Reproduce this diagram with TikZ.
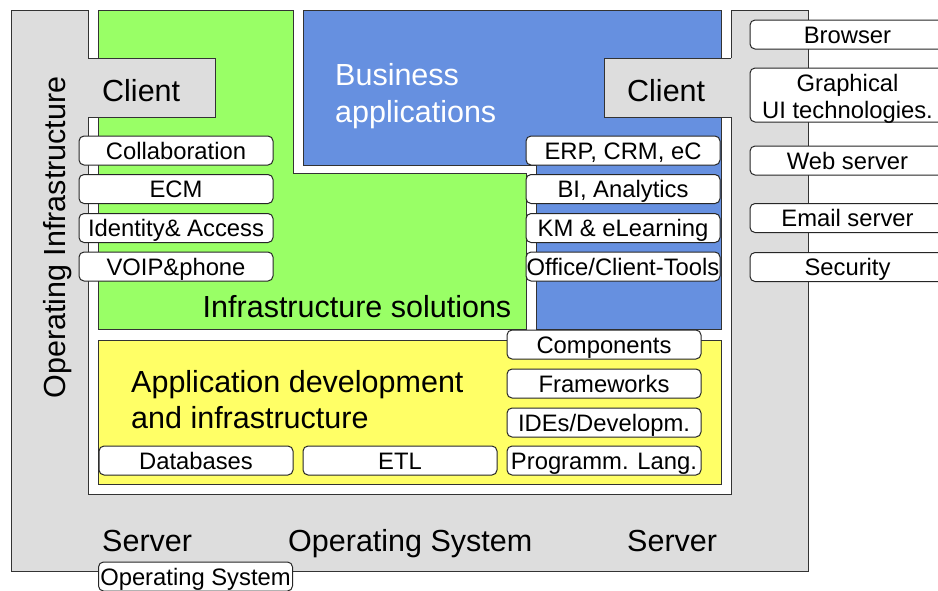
\documentclass[tikz,border=0pt]{standalone}
\usepackage{fontspec}
\setmainfont{Liberation Sans}
\usepackage{tikz}

\definecolor{osgray}{HTML}{DDDDDD}
\definecolor{infgreen}{HTML}{99FF66}
\definecolor{bizblue}{HTML}{6690E0}
\definecolor{devyellow}{HTML}{FFFF66}

\begin{document}
\begin{tikzpicture}[x=1pt,y=-1pt,
  area/.style={draw=black!80,line width=1pt},
  tag/.style={draw=black!85,fill=white,rounded corners=5pt,line width=1pt,
    minimum width=194pt,minimum height=29pt,inner sep=0pt,
    text height=17pt,text depth=0pt,font=\fontsize{23.8}{28}\selectfont},
  tagtext/.style={inner sep=0pt,font=\fontsize{23.8}{28}\selectfont},
  big/.style={inner sep=0pt,font=\fontsize{30.5}{37}\selectfont}]
\useasboundingbox (0,0) rectangle (938,590);
\clip (0,0) rectangle (938,590);

% operating infrastructure frame
\draw[area,fill=osgray] (11,10) -- (88,10) -- (88,494) -- (731,494) -- (731,10)
  -- (808,10) -- (808,571) -- (11,571) -- cycle;

% the three layers
\draw[area,fill=infgreen] (98,10) -- (293,10) -- (293,173) -- (526,173)
  -- (526,329) -- (98,329) -- cycle;
\draw[area,fill=bizblue] (303,10) -- (721,10) -- (721,329) -- (536,329)
  -- (536,165) -- (303,165) -- cycle;
\draw[area,fill=devyellow] (98,340) rectangle (721,484);

% client tabs on top of the layers
\fill[osgray] (87.5,58) rectangle (215,117);
\draw[area] (88,58) -- (215,58) -- (215,117) -- (88,117);
\fill[osgray] (604,58) rectangle (731.5,117);
\draw[area] (731,58) -- (604,58) -- (604,117) -- (731,117);

% big labels
\node[big,anchor=base west] (clientl) at (102,101) {Client};
\node[big,anchor=base west] (clientr) at (627,101) {Client};
\node[big,anchor=base west,text=white] (biz1) at (335,85) {Business};
\node[big,anchor=base west,text=white] (biz2) at (335,122) {applications};
\node[big,anchor=base] (infsol) at (357,317) {Infrastructure solutions};
\node[big,anchor=base west] (dev1) at (131,392) {Application development};
\node[big,anchor=base west] (dev2) at (131,428) {and infrastructure};
\node[big,anchor=base,rotate=90] (opinfra) at (65,237.5) {Operating Infrastructure};
\node[big,anchor=base west] (serverl) at (102,551) {Server};
\node[big,anchor=base west] (opsys) at (288,551) {Operating System};
\node[big,anchor=base west] (serverr) at (627,551) {Server};

% infrastructure solutions
\node[tag] (collab) at (176,150.5) {Collaboration};
\node[tag] (ecm) at (176,189) {ECM};
\node[tag] (idacc) at (176,228) {Identity\& Access};
\node[tag] (voip) at (176,266.5) {VOIP\&phone};

% business applications
\node[tag] (erp) at (623,150.5) {ERP, CRM, eC};
\node[tag] (bi) at (623,189) {BI, Analytics};
\node[tag] (km) at (623,228) {KM \& eLearning};
\node[tag] (office) at (623,266.5) {Office/Client-Tools};

% client and server side
\node[tag,minimum width=195pt] (browser) at (847.5,34.5) {Browser};
\node[tag,minimum width=195pt,minimum height=54pt] (gui) at (847.5,95) {};
\node[tagtext,anchor=base] (gui1) at (847.5,91) {Graphical};
\node[tagtext,anchor=base] (gui2) at (847.5,118) {UI technologies.};
\node[tag,minimum width=195pt] (websrv) at (847.5,160.5) {Web server};
\node[tag,minimum width=195pt] (mailsrv) at (847.5,218) {Email server};
\node[tag,minimum width=195pt] (security) at (847.5,267) {Security};

% application development
\node[tag] (comp) at (604,344.5) {Components};
\node[tag] (frame) at (604,383.5) {Frameworks};
\node[tag] (ides) at (604,422.5) {IDEs/Developm.};
\node[tag] (lang) at (604,460.5) {Programm. Lang.};
\node[tag] (db) at (196,460.5) {Databases};
\node[tag] (etl) at (400,460.5) {ETL};

\node[tag] (ossmall) at (195.5,576.5) {Operating System};
\end{tikzpicture}
\end{document}
